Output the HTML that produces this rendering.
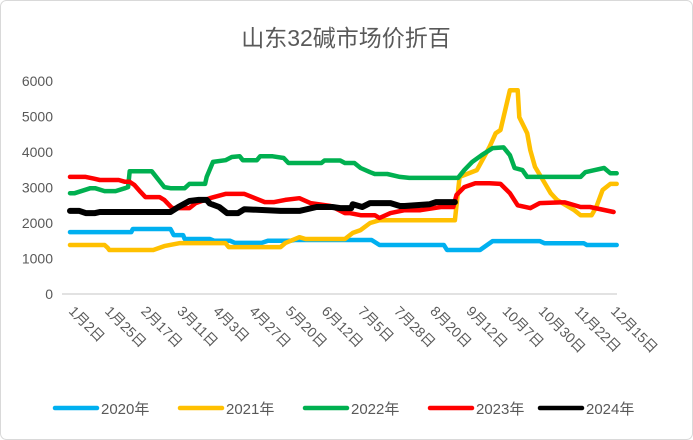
<!DOCTYPE html>
<html><head><meta charset="utf-8">
<style>
html,body{margin:0;padding:0;background:#fff;}
svg{display:block;font-family:"Liberation Sans","Noto Sans CJK SC",sans-serif;}
</style></head>
<body>
<svg id="chart" width="693" height="440" viewBox="0 0 693 440">
<rect x="0.5" y="0.5" width="692" height="439" rx="6" fill="#fff" stroke="#d9d9d9"/>
<text x="346" y="46" text-anchor="middle" font-size="23" fill="#595959">山东32碱市场价折百</text>
<g id="yaxis"></g>
<g id="xaxis"></g>
<g id="series"></g>
<g id="legend"></g>
</svg>
<script>
const yTicks = [0,1000,2000,3000,4000,5000,6000];
const xLabels = ["1月2日","1月25日","2月17日","3月11日","4月3日","4月27日","5月20日","6月12日","7月5日","7月28日","8月20日","9月12日","10月7日","10月30日","11月22日","12月15日"];
const seriesNames = ["2020年","2021年","2022年","2023年","2024年"];
const seriesColors = ["#00b0f0","#ffc000","#00b050","#ff0000","#000000"];
// day offsets from Jan 2 and values
const days2020 = [0,39,40,64,66,72,73,89,92,102,105,122,126,140,143,192,197,238,240,261,269,299,302,327,329,348];
const vals2020 = [1745,1745,1830,1830,1660,1660,1550,1550,1500,1500,1440,1440,1500,1500,1520,1520,1380,1380,1240,1240,1490,1490,1430,1430,1380,1380];
const days2021 = [0,22,24,25,53,60,70,99,101,134,137,146,150,175,180,185,191,197,245,248,259,267,271,274,277,280,285,286,291,293,296,301,306,310,321,325,332,335,339,344,348];
const vals2021 = [1380,1380,1300,1240,1240,1350,1435,1435,1320,1320,1435,1600,1550,1550,1720,1800,2000,2080,2080,3300,3490,4140,4530,4620,5180,5740,5740,4980,4530,4050,3580,3210,2840,2650,2360,2220,2220,2450,2930,3100,3100];
const days2022 = [0,3,13,16,22,29,35,37,38,52,60,64,73,76,86,87,91,99,103,108,110,119,121,129,136,139,160,162,172,175,181,185,191,194,202,210,216,247,251,256,262,269,276,280,283,288,291,325,328,334,340,344,348];
const vals2022 = [2840,2840,2980,2980,2900,2900,2980,3010,3460,3460,3010,2980,2980,3100,3100,3300,3720,3770,3860,3880,3770,3770,3880,3880,3830,3690,3690,3760,3760,3690,3690,3550,3430,3380,3380,3300,3270,3270,3490,3720,3910,4110,4130,3910,3550,3490,3300,3300,3430,3490,3550,3400,3400];
const days2023 = [0,10,15,19,31,35,38,41,45,48,57,60,65,76,80,89,99,111,116,124,130,137,146,153,166,175,178,185,194,197,204,213,223,236,244,246,251,258,267,274,280,285,293,299,312,315,325,331,346];
const vals2023 = [3300,3300,3250,3210,3210,3160,3160,3070,2870,2730,2730,2650,2420,2420,2560,2700,2820,2820,2730,2590,2590,2650,2700,2560,2480,2280,2280,2220,2220,2140,2280,2360,2360,2450,2450,2790,3010,3120,3120,3100,2840,2500,2420,2560,2580,2580,2450,2450,2310];
const days2024 = [0,6,10,16,19,64,69,76,82,87,89,95,100,107,111,134,146,157,167,172,179,180,186,191,194,204,210,213,229,233,245];
const vals2024 = [2340,2340,2280,2280,2310,2310,2450,2620,2650,2650,2550,2450,2280,2280,2390,2340,2340,2450,2450,2420,2420,2530,2450,2560,2560,2560,2480,2480,2530,2590,2590];
const seriesDays = [days2020,days2021,days2022,days2023,days2024];
const seriesVals = [vals2020,vals2021,vals2022,vals2023,vals2024];

const NS="http://www.w3.org/2000/svg";
const X0=70, PX_PER_DAY=1.571, Y0=294, PX_PER_VAL=213/6000;
function xScale(d){return X0+d*PX_PER_DAY;}
function yScale(v){return Y0-v*PX_PER_VAL;}
function mk(tag,attrs,parent){const e=document.createElementNS(NS,tag);for(const k in attrs)e.setAttribute(k,attrs[k]);parent.appendChild(e);return e;}

const yaxis=document.getElementById('yaxis');
yTicks.forEach(t=>{
  const tx=mk('text',{x:53,y:yScale(t)+5,'text-anchor':'end','font-size':14,fill:'#595959'},yaxis);
  
  
  tx.textContent=t;
});
const axisLine=mk('line',{x1:62,x2:617,y1:Y0,y2:Y0,stroke:'#d9d9d9','stroke-width':1.5},yaxis);



const xaxis=document.getElementById('xaxis');
xLabels.forEach((l,i)=>{
  const x=xScale(i*23)-2, y=312;
  const tx=mk('text',{x:x,y:y,'font-size':14,fill:'#595959',transform:`rotate(45 ${x} ${y})`},xaxis);
  
  
  tx.textContent=l;
});

const sg=document.getElementById('series');
seriesDays.forEach((ds,si)=>{
  const pts=ds.map((d,i)=>xScale(d).toFixed(1)+','+yScale(seriesVals[si][i]).toFixed(1)).join(' ');
  const pl=mk('polyline',{points:pts,fill:'none',stroke:seriesColors[si],'stroke-width':si===4?6:4.5,'stroke-linejoin':'round','stroke-linecap':'round'},sg);
  
  
});

const lg=document.getElementById('legend');
const lx=[55,180,305,430,540];
seriesNames.forEach((n,i)=>{
  const g=mk('g',{},lg);
  
  
  mk('line',{x1:lx[i],x2:lx[i]+42,y1:408,y2:408,stroke:seriesColors[i],'stroke-width':4.5,'stroke-linecap':'round'},g);
  const t=mk('text',{x:lx[i]+46,y:414,'font-size':15,fill:'#595959'},g);
  t.textContent=n;
});
</script>
</body></html>
